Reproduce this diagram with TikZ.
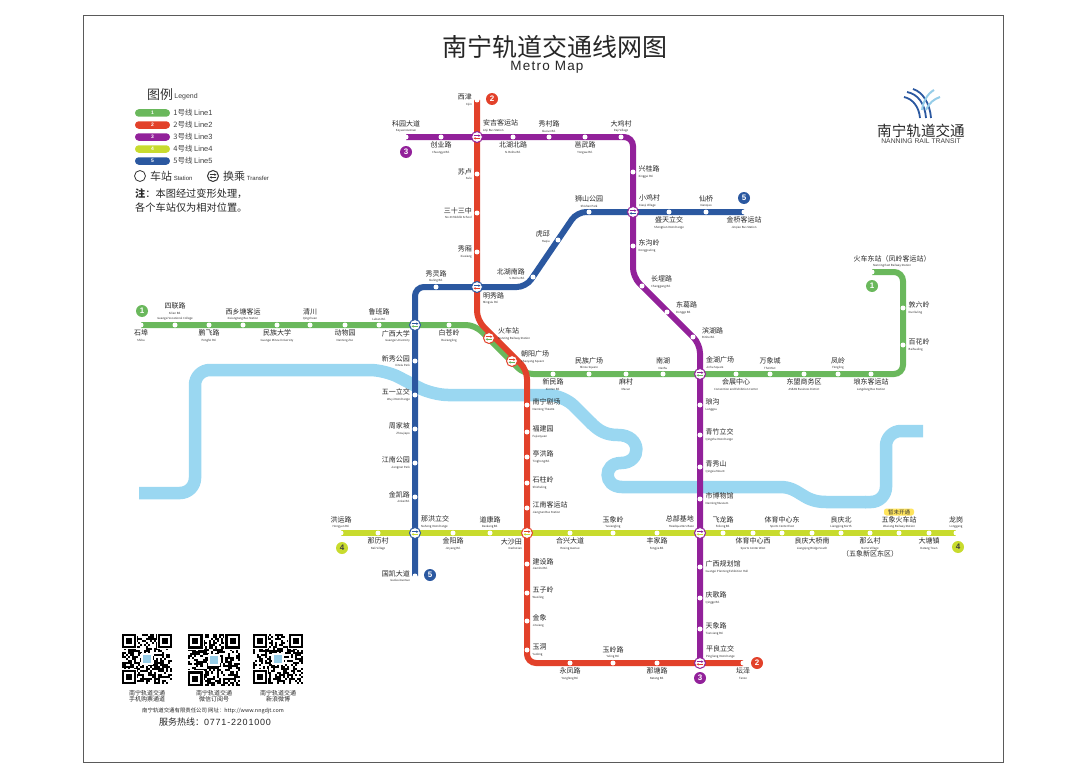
\documentclass[tikz,border=0pt]{standalone}
\usepackage{fontspec}
\setmainfont{Noto Sans CJK SC}
\newfontfamily\latinfont{Liberation Sans}
\newfontfamily\latinwide[LetterSpace=9]{Liberation Sans}
\usetikzlibrary{arrows.meta,positioning}
\definecolor{metrogreen}{RGB}{106,184,92}
\definecolor{metrored}{RGB}{226,65,42}
\definecolor{metropurple}{RGB}{146,33,154}
\definecolor{metrolime}{RGB}{200,219,46}
\definecolor{metroblue}{RGB}{43,88,160}
\definecolor{riverblue}{RGB}{154,215,241}
\definecolor{logolight}{RGB}{150,205,232}
\definecolor{pillyellow}{RGB}{255,228,92}
\definecolor{framegrey}{RGB}{90,90,90}
\newcommand{\enf}{\fontsize{2.8}{5.5}\selectfont}
\newcommand{\stf}{\fontsize{7}{5.5}\selectfont}
\newcommand{\fsz}[1]{\fontsize{#1}{#1}\selectfont}
% one QR square, left/top corner and side
\newcommand{\qrblock}[3]{%
  \begin{scope}[shift={(#1,#2)},x=#3pt/25,y=-#3pt/25]
    \foreach \i in {0,...,24}
      \foreach \j in {0,...,24} {
        \pgfmathrandominteger{\q}{0}{1}
        \ifnum\q=1 \fill[black] (\i,\j) rectangle ++(1,1); \fi
      }
    \foreach \fx/\fy in {0/0,18/0,0/18} {
      \fill[white] (\fx-0.5,\fy-0.5) rectangle ++(8,8);
      \fill[black] (\fx,\fy) rectangle ++(7,7);
      \fill[white] (\fx+1,\fy+1) rectangle ++(5,5);
      \fill[black] (\fx+2,\fy+2) rectangle ++(3,3);
    }
    \fill[white] (9.5,9.5) rectangle ++(6,6);
    \fill[logolight] (10.5,10.5) rectangle ++(4,4);
  \end{scope}}
\pgfdeclarelayer{river}
\pgfdeclarelayer{tracks}
\pgfsetlayers{river,tracks,main}
\tikzset{
  stat/.style={circle,fill=white,inner sep=0pt,minimum size=5pt},
  xfer/.style n args={2}{circle,minimum size=11pt,inner sep=0pt,fill=white,draw=#1,line width=1pt,
    path picture={
      \draw[#1,line width=.7pt,-{Stealth[length=2.2pt,width=2.4pt]}] ([xshift=-3.4pt,yshift=1.3pt]path picture bounding box.center) -- ([xshift=3.4pt,yshift=1.3pt]path picture bounding box.center);
      \draw[#2,line width=.7pt,-{Stealth[length=2.2pt,width=2.4pt]}] ([xshift=3.4pt,yshift=-1.3pt]path picture bounding box.center) -- ([xshift=-3.4pt,yshift=-1.3pt]path picture bounding box.center);
    }},
  stlab/.style={inner sep=0pt,align=center,text=black!85,font=\stf},
  labab/.style={above=4.5pt},
  labbe/.style={below=4.5pt},
  lablt/.style={left=5pt,align=right},
  labrt/.style={right=5.5pt,align=left},
  labne/.style={above right={5pt and 6pt},align=left},
  labnw/.style={above left={5pt and 6pt},align=right},
  labse/.style={below right={5pt and 6pt},align=left},
  labsw/.style={below left={5pt and 5pt},align=right},
  labur/.style={right=9pt,yshift=4pt,align=left},
  labul/.style={left=8pt,yshift=3pt,align=right},
  labfar/.style={above=4.5pt,xshift=20pt},
  track/.style={line width=6pt,rounded corners=9pt},
  water/.style={riverblue,line width=12.5pt},
  linenum/.style={circle,inner sep=0pt,minimum size=12pt,fill=#1,text=white,font=\latinfont\bfseries\fsz{8}},
  pill/.style={rectangle,rounded corners=3.7pt,minimum width=35pt,minimum height=7.5pt,inner sep=0pt,fill=#1,text=white,font=\latinfont\bfseries\fsz{5}},
  legtext/.style={inner sep=0pt,text=black!75,font=\fsz{7.5}},
  small/.style={inner sep=0pt,align=center,text=black!85,font=\fsz{6}},
}
\begin{document}
\begin{tikzpicture}[x=1pt,y=-1pt]
  \useasboundingbox (0,0) rectangle (1080,784);
  \draw[framegrey,line width=.7pt] (83,15) rectangle (1003,762);

  % title and logo
  \node[inner sep=0pt,font=\fsz{25},text=black!85] (title) at (555,47) {南宁轨道交通线网图};
  \node[inner sep=0pt,font=\latinwide\fsz{13.5},text=black!85] (subtitle) at (547,67) {Metro Map};
  \node[inner sep=0pt,font=\fsz{14.6},text=black!85] (logoname) at (921,131) {南宁轨道交通};
  \node[inner sep=0pt,font=\latinfont\fsz{6.8},text=black!75] (logoeng) at (921,141) {NANNING RAIL TRANSIT};
  \draw[metroblue,line width=1.8pt] (904,97) .. controls (913,99) and (919,107) .. (920,118);
  \draw[metroblue,line width=1.8pt] (907,92) .. controls (918,94) and (925,104) .. (926,118);
  \draw[metroblue,line width=1.8pt] (913,89) .. controls (923,92) and (930,104) .. (931,118);
  \draw[logolight,line width=2pt] (934,90) .. controls (927,94) and (923,102) .. (922,110);
  \draw[logolight,line width=2pt] (940,97) .. controls (934,99) and (929,103) .. (926,110);

  % legend
  \node[inner sep=0pt,font=\fsz{13},text=black!80] (legtitle) at (160,95) {图例};
  \node[legtext,font=\latinfont\fsz{7},right=1pt of legtitle,yshift=-2pt] (legeng) {Legend};
  \foreach \i/\col/\yy in {1/metrogreen/113,2/metrored/125,3/metropurple/137,4/metrolime/149,5/metroblue/161} {
    \node[pill=\col] (pill\i) at (152.5,\yy) {\i};
    \node[legtext,right=3pt of pill\i] (legline\i) {\i 号线 {\latinfont Line\i}};
  }
  \node[circle,draw=black!80,line width=.8pt,minimum size=11pt,inner sep=0pt] (legstat) at (140,176) {};
  \node[inner sep=0pt,font=\fsz{11},text=black!80,right=4pt of legstat] (legstattext) {车站{\latinfont\fsz{6} Station}};
  \node[xfer={black!80}{black!80}] (legxfer) at (213,176) {};
  \node[inner sep=0pt,font=\fsz{11},text=black!80,right=4pt of legxfer] (legxfertext) {换乘{\latinfont\fsz{6} Transfer}};
  \node[inner sep=0pt,font=\fsz{10.2},text=black!85,anchor=west] (note1) at (135,194) {{\bfseries 注}：本图经过变形处理，};
  \node[inner sep=0pt,font=\fsz{10.2},text=black!85,anchor=west] (note2) at (135,208) {各个车站仅为相对位置。};

  % plain stations
  \foreach \nm/\x/\y/\sd/\cn/\en in {
    shibu/141/325/labbe/石埠/Shibu,
    silian/175/325/labab/四联路/{Silian Rd.\\\enf Guangxi Vocational College},
    pengfei/209/325/labbe/鹏飞路/Pengfei Rd.,
    xixiang/243/325/labab/西乡塘客运/{Xixiangtang Bus Station},
    minda/277/325/labbe/民族大学/Guangxi Minzu University,
    qingchuan/310/325/labab/清川/Qingchuan,
    dongwu/345/325/labbe/动物园/Nanning Zoo,
    luban/379/325/labab/鲁班路/Luban Rd.,
    baicang/449/325/labbe/白苍岭/Baicangling,
    xinmin/553/374/labbe/新民路/Xinmin Rd.,
    minguang/589/374/labab/民族广场/Minzu Square,
    macun/626/374/labbe/麻村/Macun,
    nanhu/663/374/labab/南湖/Nanhu,
    huizhan/736/374/labbe/会展中心/Convention and Exhibition Center,
    wanxiang/770/374/labab/万象城/The MixC,
    dongmeng/804/374/labbe/东盟商务区/ASEAN Business District,
    fengling/838/374/labab/凤岭/Fengling,
    langdong/871/374/labbe/埌东客运站/Langdong Bus Station,
    baihua/903/345/labrt/百花岭/Baihualing,
    dunliu/903/308/labrt/敦六岭/Dunliuling,
    hcdz/872/272/labfar/火车东站（凤岭客运站）/Nanning East Railway Station,
    xijin/477/100/lablt/西津/Xijin,
    sulu/477/174/lablt/苏卢/Sulu,
    sanshi/477/213/lablt/三十三中/No.33 Middle School,
    xiuxiang/477/252/lablt/秀厢/Xiuxiang,
    juchang/527/405/labrt/南宁剧场/Nanning Theatre,
    fujian/527/432/labrt/福建园/Fujianyuan,
    tinghong/527/457/labrt/亭洪路/Tinghong Rd.,
    shizhu/527/483/labrt/石柱岭/Shizhuling,
    jiangnan/527/508/labrt/江南客运站/Jiangnan Bus Station,
    jianshe/527/564/labrt/建设路/Jianshe Rd.,
    wuzi/527/593/labrt/五子岭/Wuziling,
    jinxiang/527/621/labrt/金象/Jinxiang,
    yudong/527/650/labrt/玉洞/Yudong,
    yongfeng/570/663/labbe/永凤路/Yongfeng Rd.,
    wangling/613/663/labab/玉岭路/Yuling Rd.,
    natang/657/663/labbe/那塘路/Natang Rd.,
    tanze/743/663/labbe/坛泽/Tanze,
    keyuan/406/137/labab/科园大道/Keyuan Avenue,
    chuangye/441/137/labbe/创业路/Chuangye Rd.,
    beihubei/513/137/labbe/北湖北路/N. Beihu Rd.,
    xiucun/549/137/labab/秀村路/Xiucun Rd.,
    yongwu/585/137/labbe/邕武路/Yongwu Rd.,
    daji/621/137/labab/大鸡村/Daji Village,
    xinggui/633/172/labrt/兴桂路/Xinggui Rd.,
    donggou/633/246/labrt/东沟岭/Donggouling,
    changgang/642/286/labur/长堽路/Changgang Rd.,
    dongge/667/312/labur/东葛路/Dongge Rd.,
    binhu/693/337/labur/滨湖路/Binhu Rd.,
    langgou/700/405/labrt/琅沟/Langgou,
    qingzhu/700/435/labrt/青竹立交/Qingzhu Interchange,
    qingxiu/700/467/labrt/青秀山/Qingxiu Mount,
    bowuguan/700/499/labrt/市博物馆/Nanning Museum,
    guihua/700/567/labrt/广西规划馆/Guangxi Planning Exhibition Hall,
    qingge/700/598/labrt/庆歌路/Qingge Rd.,
    tianxiang/700/629/labrt/天象路/Tianxiang Rd.,
    hongyun/341/533/labab/洪运路/Hongyun Rd.,
    nali/378/533/labbe/那历村/Nali Village,
    jinyang/453/533/labbe/金阳路/Jinyang Rd.,
    daokang/490/533/labab/道康路/Daokang Rd.,
    hexing/570/533/labbe/合兴大道/Hexing Avenue,
    yuxiang/613/533/labab/玉象岭/Yuxiangling,
    fengjia/657/533/labbe/丰家路/Fengjia Rd.,
    feilong/723/533/labab/飞龙路/Feilong Rd.,
    tiyuxi/753/533/labbe/体育中心西/Sports Center West,
    tiyudong/782/533/labab/体育中心东/Sports Center East,
    liangqiao/812/533/labbe/良庆大桥南/Liangqing Bridge South,
    liangbei/841/533/labab/良庆北/Liangqing North,
    namo/870/533/labbe/那么村/{Namo Village\\\stf（五象新区东区）},
    wuxianghc/899/533/labab/五象火车站/Wuxiang Railway Station,
    datang/929/533/labbe/大塘镇/Datang Town,
    longgang/956/533/labab/龙岗/Longgang,
    xiuling/436/287/labab/秀灵路/Xiuling Rd.,
    beihunan/533/277/labul/北湖南路/S. Beihu Rd.,
    huqiu/558/240/labul/虎邱/Huqiu,
    shishan/589/212/labab/狮山公园/Shishan Park,
    shengtian/669/212/labbe/盛天立交/Shengtian Interchange,
    xianqiao/706/212/labab/仙桥/Xianqiao,
    jinqiao/744/212/labbe/金桥客运站/Jinqiao Bus Station,
    xinxiu/415/361/lablt/新秀公园/Xinxiu Park,
    wuyi/415/395/lablt/五一立交/Wuyi Interchange,
    zhoujia/415/429/lablt/周家坡/Zhoujiapo,
    jiangpark/415/463/lablt/江南公园/Jiangnan Park,
    jinkai/415/497/lablt/金凯路/Jinkai Rd.,
    guokai/415/576/lablt/国凯大道/Guokai Avenue} {
    \node[stat] (\nm) at (\x,\y) {};
    \node[stlab,\sd] (\nm-t) at (\nm) {\cn\\\enf\en};
  }

  % transfer stations
  \foreach \nm/\x/\y/\ca/\cb/\sd/\cn/\en in {
    anji/477/137/metropurple/metrored/labne/安吉客运站/Anji Bus Station,
    mingxiu/477/287/metroblue/metrored/labse/明秀路/Mingxiu Rd.,
    xiaoji/633/212/metropurple/metroblue/labne/小鸡村/Xiaoji Village,
    guangda/415/325/metroblue/metrogreen/labsw/广西大学/Guangxi University,
    huoche/489/338/metrored/metrogreen/labur/火车站/Nanning Railway Station,
    chaoyang/512/361/metrored/metrogreen/labur/朝阳广场/Chaoyang Square,
    jinhu/700/374/metropurple/metrogreen/labne/金湖广场/Jinhu Square,
    nahong/415/533/metroblue/metrolime/labne/那洪立交/Nahong Interchange,
    dasha/527/533/metrored/metrolime/labsw/大沙田/Dashatian,
    zongbu/700/533/metropurple/metrolime/labnw/总部基地/Headquarters Base,
    pingliang/700/663/metropurple/metrored/labne/平良立交/Pingliang Interchange} {
    \node[xfer={\ca}{\cb}] (\nm) at (\x,\y) {};
    \node[stlab,\sd] (\nm-t) at (\nm) {\cn\\\enf\en};
  }

  % bends of the lines
  \foreach \nm/\x/\y in {gb1/475/325,gb2/524/374,gb3/903/374,gb4/903/272,
    rb1/477/320,rb2/527/370,rb3/527/663,pb1/633/137,pb2/633/277,pb3/700/344,
    bb1/415/287,bb2/526/287,bb3/577/212}
    \coordinate (\nm) at (\x,\y);

  \begin{pgfonlayer}{tracks}
    \draw[track,metrogreen] (shibu.center) -- (gb1) -- (gb2) -- (gb3) -- (gb4) -- (hcdz.center);
    \draw[track,metrolime] (hongyun.center) -- (longgang.center);
    \draw[track,metroblue] (guokai.center) -- (bb1) -- (bb2) -- (bb3) -- (jinqiao.center);
    \draw[track,metropurple] (keyuan.center) -- (pb1) -- (pb2) -- (pb3) -- (pingliang.center);
    \draw[track,metrored] (xijin.center) -- (rb1) -- (rb2) -- (rb3) -- (tanze.center);
  \end{pgfonlayer}

  \begin{pgfonlayer}{river}
    \draw[water,rounded corners=15pt]
      (139,493) -- (195,493) -- (195,370) -- (385,370) -- (433,395) -- (563,395) -- (592,424);
    \draw[water]
      (591,423) .. controls (599,431) and (606,435) .. (618,435)
      .. controls (642,435) and (642,463) .. (621,463)
      .. controls (603,463) and (603,487) .. (622,487) -- (780,487)
      .. controls (800,487) and (802,502) .. (826,502) -- (866,502);
    \draw[water,rounded corners=15pt]
      (865,502) -- (886,502) -- (886,431) -- (923,431);
  \end{pgfonlayer}

  % line numbers
  \node[linenum=metrogreen] (num1a) at (142,311) {1};
  \node[linenum=metrogreen] (num1b) at (872,286) {1};
  \node[linenum=metrored] (num2a) at (492,99) {2};
  \node[linenum=metrored] (num2b) at (757,663) {2};
  \node[linenum=metropurple] (num3a) at (406,152) {3};
  \node[linenum=metropurple] (num3b) at (700,678) {3};
  \node[linenum=metrolime,text=black!75] (num4a) at (342,548) {4};
  \node[linenum=metrolime,text=black!75] (num4b) at (958,547) {4};
  \node[linenum=metroblue] (num5a) at (744,198) {5};
  \node[linenum=metroblue] (num5b) at (430,575) {5};
  \node[rectangle,rounded corners=2.5pt,fill=pillyellow,inner sep=0pt,minimum width=30pt,minimum height=7pt,font=\fsz{5.5},text=black!80] (notopen) at (899,512) {暂未开通};

  % QR codes and service lines
  \pgfmathsetseed{4711}
  \qrblock{122}{634}{50}
  \qrblock{188}{634}{52}
  \qrblock{253}{634}{50}
  \node[small] (qrcap1) at (147,696) {南宁轨道交通\\手机购票通道};
  \node[small] (qrcap2) at (214,696) {南宁轨道交通\\微信订阅号};
  \node[small] (qrcap3) at (278,696) {南宁轨道交通\\新浪微博};
  \node[small,font=\fsz{5.4}] (website) at (213,711) {南宁轨道交通有限责任公司 网址：http://www.nngdjt.com};
  \node[inner sep=0pt,font=\latinwide\fsz{9},text=black!85] (hotline) at (215,722) {{\rmfamily 服务热线：}0771-2201000};
\end{tikzpicture}
\end{document}
